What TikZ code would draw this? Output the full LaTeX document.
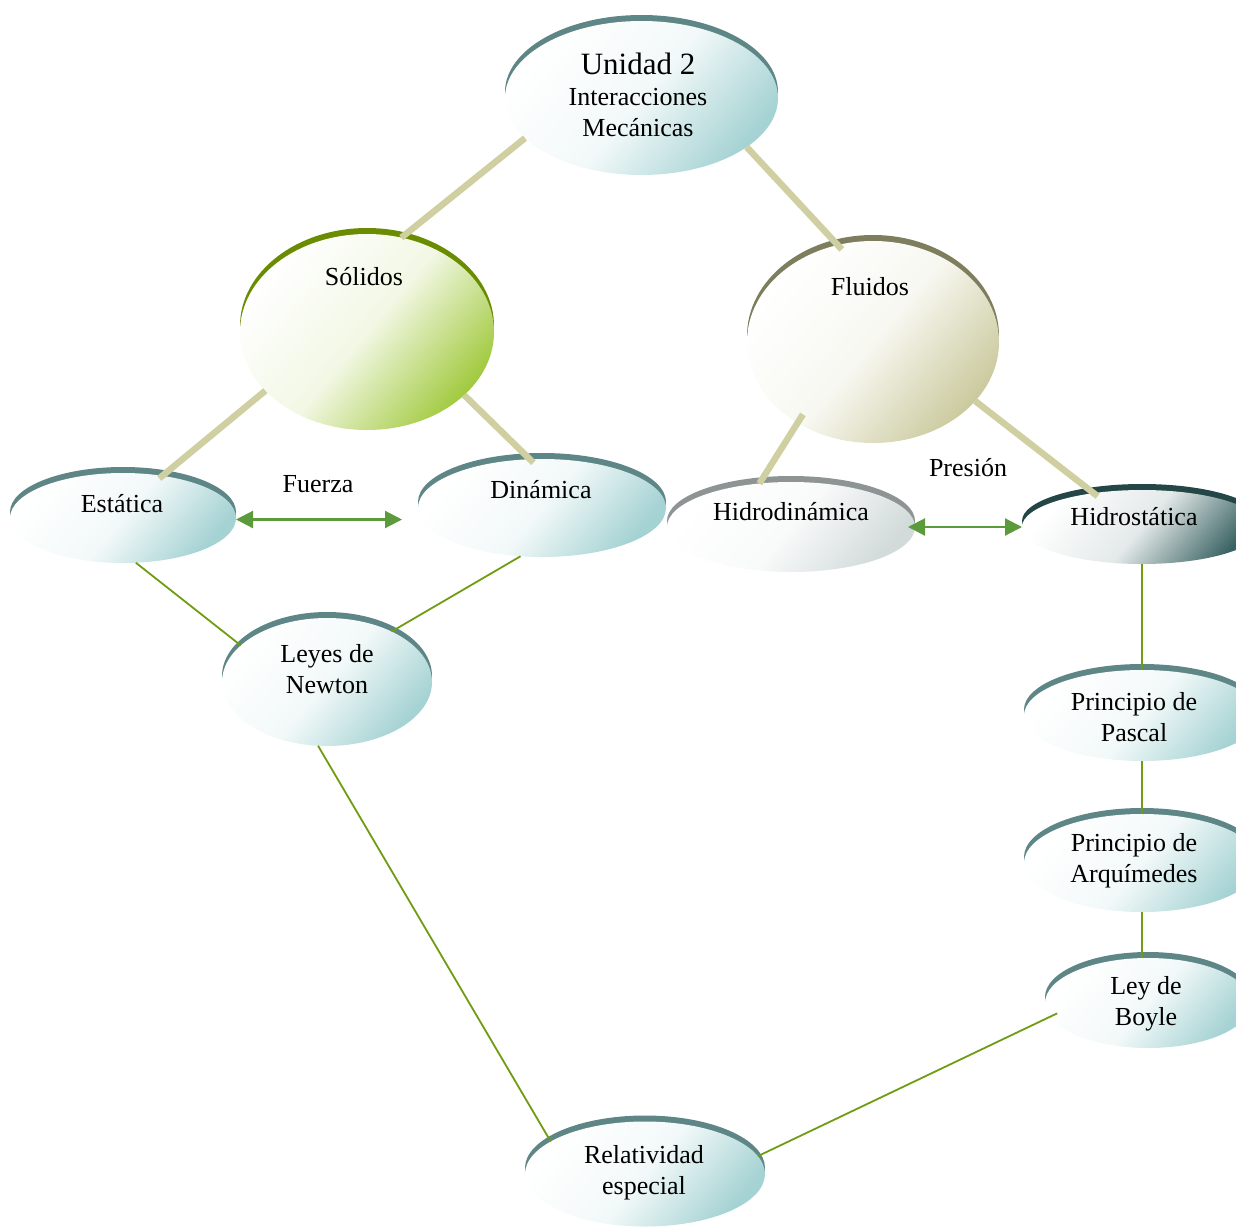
\documentclass[tikz,border=0pt]{standalone}
\usepackage{fontspec}
\setmainfont{Liberation Serif}
\usetikzlibrary{shapes.geometric,arrows.meta}
\definecolor{tealF}{HTML}{A5D2D3}
\definecolor{tealA}{HTML}{5F8686}
\definecolor{solF}{HTML}{A2CA40}
\definecolor{solA}{HTML}{6A8C00}
\definecolor{fluF}{HTML}{CBCA9E}
\definecolor{fluA}{HTML}{7E7E5E}
\definecolor{hdF}{HTML}{D2DADA}
\definecolor{hdA}{HTML}{8E9393}
\definecolor{hsF}{HTML}{3B6363}
\definecolor{hsA}{HTML}{244646}
\definecolor{khaki}{HTML}{CFCFA2}
\definecolor{gline}{HTML}{6F9C12}
\definecolor{garrow}{HTML}{5B9B3B}
\tikzset{
  bub/.style={ellipse, inner sep=0pt, outer sep=0pt, top color=white,
    bottom color=#1, middle color=#1!14!white, shading angle=50},
  txt/.style={font=\fontsize{26}{31}\selectfont, align=center, inner sep=0pt},
  kline/.style={draw=khaki, line width=6.5pt},
  gconn/.style={draw=gline, line width=1.8pt},
  arr/.style={draw=garrow, line width=2.2pt,
    {Triangle[length=17pt,width=17pt]}-{Triangle[length=17pt,width=17pt]}},
}
\newcommand\bubble[7]{%
  \fill[#6] (#2,#3-6) ellipse [x radius=#4pt, y radius=#5pt];
  \node[bub=#7, minimum width=2*#4pt, minimum height=2*#5pt] (#1) at (#2,#3) {};
}
\begin{document}
\begin{tikzpicture}[x=1pt,y=-1pt]
\useasboundingbox (0,0) rectangle (1236,1226);
\begin{scope}
\clip (0,0) rectangle (1236,1226);
\bubble{uni}{641.5}{98}{136.5}{77}{tealA}{tealF}
\bubble{sol}{367}{332}{127}{98}{solA}{solF}
\bubble{flu}{873}{342}{126}{101}{fluA}{fluF}
\bubble{est}{123}{518}{113}{45}{tealA}{tealF}
\bubble{din}{542}{508}{124}{49}{tealA}{tealF}
\bubble{hd}{791}{527}{124}{45}{hdA}{hdF}
\bubble{hs}{1142}{527}{120}{37}{hsA}{hsF}
\bubble{ley}{327}{682}{105}{64}{tealA}{tealF}
\bubble{pas}{1142}{715.5}{118}{45.5}{tealA}{tealF}
\bubble{arq}{1142}{863}{118}{49}{tealA}{tealF}
\bubble{boy}{1148}{1003}{103}{45}{tealA}{tealF}
\bubble{rel}{645}{1174}{120}{52.5}{tealA}{tealF}

% thick connectors
\draw[kline] (uni.199) -- (sol.70);
\draw[kline, shorten >=-6pt] (uni.335) -- (flu.110);
\draw[kline, shorten >=-4pt] (sol.210) -- (est.47);
\draw[kline, shorten >=-5pt] (sol.327) -- (din.104);
\draw[kline, shorten <=-10pt] (flu.227) -- (hd.126);
\draw[kline, shorten >=-5pt] (flu.330) -- (hs.145);

% thin connectors
\draw[gconn] (est.286) -- (ley.157);
\draw[gconn] (din.246) -- (ley.38);
\draw[gconn] (ley.262) -- (rel.161);
\draw[gconn] (hs.south) -- (pas.north);
\draw[gconn] (pas.south) -- (arq.north);
\draw[gconn] (arq.south) -- (boy.north -| arq.south);
\draw[gconn, shorten <=-8pt] (boy.188) -- (rel.9);

% arrows
\draw[arr, shorten >=16pt] ([yshift=-1.5pt]est.east) -- ([yshift=-1.5pt]est.east -| din.west);
\draw[arr] ([xshift=-7pt]hd.east) -- (hd.east -| hs.west);

% texts
\node[txt] (tuni) at (638,95) {{\fontsize{31}{35}\selectfont Unidad 2}\\Interacciones\\Mecánicas};
\node[txt] (tsol) at (364,277) {Sólidos};
\node[txt] (tflu) at (870,287) {Fluidos};
\node[txt] (test) at (122,504) {Estática};
\node[txt] (tdin) at (541,490) {Dinámica};
\node[txt] (thd) at (791,512) {Hidrodinámica};
\node[txt] (ths) at (1134,517) {Hidrostática};
\node[txt] (tley) at (327,669) {Leyes de\\Newton};
\node[txt] (tpas) at (1134,717) {Principio de\\Pascal};
\node[txt] (tarq) at (1134,861) {Principio de\\Arquímedes};
\node[txt] (tboy) at (1146,1004) {Ley de\\Boyle};
\node[txt] (trel) at (644,1173) {Relatividad\\especial};
\node[txt] (tfue) at (318,484) {Fuerza};
\node[txt] (tpre) at (968,468) {Presión};
\end{scope}
\end{tikzpicture}
\end{document}
